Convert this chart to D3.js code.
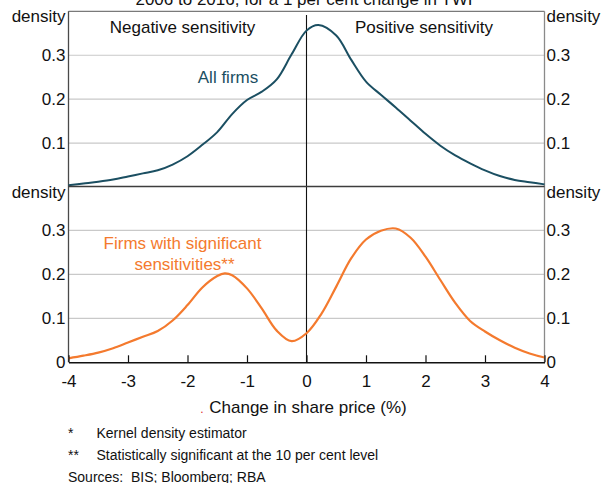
<!DOCTYPE html>
<html><head><meta charset="utf-8">
<script src="https://cdn.jsdelivr.net/npm/d3@7"></script>
<style>
body{margin:0;background:#fff;}
svg{display:block;font-family:"Liberation Sans",Arial,sans-serif;}
</style></head><body>
<svg id="c" width="603" height="483"></svg>
<script>
const xTop = [-4,-3.75,-3.5,-3.25,-3,-2.75,-2.5,-2.25,-2,-1.75,-1.5,-1.25,-1,-0.75,-0.5,-0.25,0,0.2,0.5,0.75,1,1.25,1.5,1.75,2,2.25,2.5,2.75,3,3.25,3.5,3.75,4];
const allFirms = [0.004,0.008,0.012,0.017,0.024,0.031,0.038,0.051,0.07,0.096,0.125,0.166,0.198,0.217,0.245,0.302,0.356,0.369,0.345,0.29,0.24,0.21,0.181,0.151,0.121,0.094,0.072,0.054,0.038,0.025,0.016,0.011,0.006];
const xBot = [-4,-3.75,-3.5,-3.25,-3,-2.75,-2.5,-2.25,-2,-1.75,-1.5,-1.375,-1.25,-1,-0.75,-0.5,-0.25,0,0.25,0.5,0.75,1,1.25,1.5,1.75,2,2.25,2.5,2.75,3,3.25,3.5,3.75,4];
const sigFirms = [0.009,0.015,0.022,0.032,0.045,0.058,0.071,0.095,0.13,0.17,0.196,0.202,0.198,0.168,0.122,0.072,0.048,0.066,0.11,0.172,0.236,0.279,0.299,0.304,0.283,0.24,0.187,0.135,0.094,0.07,0.05,0.033,0.02,0.011];
const xTicks = [-4,-3,-2,-1,0,1,2,3,4];
const yTicksTop = [0.1,0.2,0.3];
const yTicksBottom = [0,0.1,0.2,0.3];

const svg = d3.select("#c");
const x = d3.scaleLinear().domain([-4,4]).range([68.5,544.5]);
const yTop = d3.scaleLinear().domain([0,0.4]).range([187,11.3]);
const yBot = d3.scaleLinear().domain([0,0.4]).range([362.3,186.3]);
const teal = "#1b4f62", orange = "#f47a2e";
const FS = 17;

function grid(y, ticks){
  svg.append("g").selectAll("line").data(ticks.filter(t=>t>0)).join("line")
    .attr("x1",x(-4)).attr("x2",x(4)).attr("y1",d=>y(d)).attr("y2",d=>y(d))
    .attr("stroke","#c9c9c9").attr("stroke-width",1.2);
}
grid(yTop,yTicksTop); grid(yBot,yTicksBottom);

svg.append("line").attr("x1",x(-4)).attr("x2",x(4)).attr("y1",yTop(0.4)).attr("y2",yTop(0.4)).attr("stroke","#7a7a7a").attr("stroke-width",1.3);
svg.append("line").attr("x1",x(-4)).attr("x2",x(-4)).attr("y1",yTop(0.4)).attr("y2",yBot(0)).attr("stroke","#4a4a4a").attr("stroke-width",1.3);
svg.append("line").attr("x1",x(4)).attr("x2",x(4)).attr("y1",yTop(0.4)).attr("y2",yBot(0)).attr("stroke","#8a8a8a").attr("stroke-width",1.3);
svg.append("line").attr("x1",x(0)).attr("x2",x(0)).attr("y1",15).attr("y2",yBot(0)).attr("stroke","#111").attr("stroke-width",1.1);

const lineTop = d3.line().x((d,i)=>x(xTop[i])).y(d=>yTop(d)).curve(d3.curveCatmullRom.alpha(0.5));
const lineBot = d3.line().x((d,i)=>x(xBot[i])).y(d=>yBot(d)).curve(d3.curveCatmullRom.alpha(0.5));
svg.append("path").attr("d",lineTop(allFirms)).attr("fill","none").attr("stroke",teal).attr("stroke-width",2);
svg.append("path").attr("d",lineBot(sigFirms)).attr("fill","none").attr("stroke",orange).attr("stroke-width",2.2);

svg.append("line").attr("x1",x(-4)).attr("x2",x(4)).attr("y1",186.5).attr("y2",186.5).attr("stroke","#3d3d3d").attr("stroke-width",1.5);

const xAxis = d3.axisBottom(x).tickValues(xTicks).tickSizeInner(-7).tickSizeOuter(0).tickPadding(10).tickFormat(d=>String(d));
const gx = svg.append("g").attr("transform",`translate(0,${yBot(0)})`).call(xAxis);
gx.select(".domain").attr("stroke","#111").attr("stroke-width",1.5);
gx.selectAll(".tick line").attr("stroke","#111").attr("stroke-width",1.2);
gx.selectAll(".tick text").attr("font-size",FS).attr("fill","#111").attr("font-family","Liberation Sans, Arial, sans-serif").attr("dy","0.85em");

function yLabels(y, ticks){
  const fmt = d=> d===0 ? "0" : d3.format(".1f")(d);
  svg.append("g").selectAll("text").data(ticks).join("text")
    .attr("x",65.5).attr("y",d=>y(d)).attr("dy","0.35em").attr("text-anchor","end")
    .attr("font-size",FS).attr("fill","#111").text(fmt);
  svg.append("g").selectAll("text").data(ticks).join("text")
    .attr("x",546.5).attr("y",d=>y(d)).attr("dy","0.35em").attr("text-anchor","start")
    .attr("font-size",FS).attr("fill","#111").text(fmt);
}
yLabels(yTop,yTicksTop); yLabels(yBot,yTicksBottom);

function txt(t,xp,yp,anchor,size,fill){
  return svg.append("text").attr("x",xp).attr("y",yp).attr("text-anchor",anchor)
    .attr("font-size",size).attr("fill",fill||"#111").text(t);
}
txt("density",65.5,22,"end",FS);
txt("density",546.5,22,"start",FS);
txt("density",65.5,197.5,"end",FS);
txt("density",546.5,197.5,"start",FS);

txt("2006 to 2016, for a 1 per cent change in TWI",304,4.5,"middle",FS);
txt("Negative sensitivity",182.5,32.5,"middle",FS);
txt("Positive sensitivity",424,32.5,"middle",FS);
txt("All firms",228,82.5,"middle",FS,teal);
txt("Firms with significant",182.5,249,"middle",FS,orange);
txt("sensitivities**",184.5,270,"middle",FS,orange);

txt("Change in share price (%)",308,413,"middle",FS);
txt(".",202,413,"middle",12,"#e03030");

const FN = 14;
txt("*",68,438,"start",FN);
txt("Kernel density estimator",96.5,438,"start",FN);
txt("**",68,460,"start",FN);
txt("Statistically significant at the 10 per cent level",96.5,460,"start",FN);
svg.append("text").attr("x",68).attr("y",481.5).attr("font-size",FN).attr("fill","#111")
  .style("white-space","pre").text("Sources:  BIS; Bloomberg; RBA");
</script>
</body></html>
